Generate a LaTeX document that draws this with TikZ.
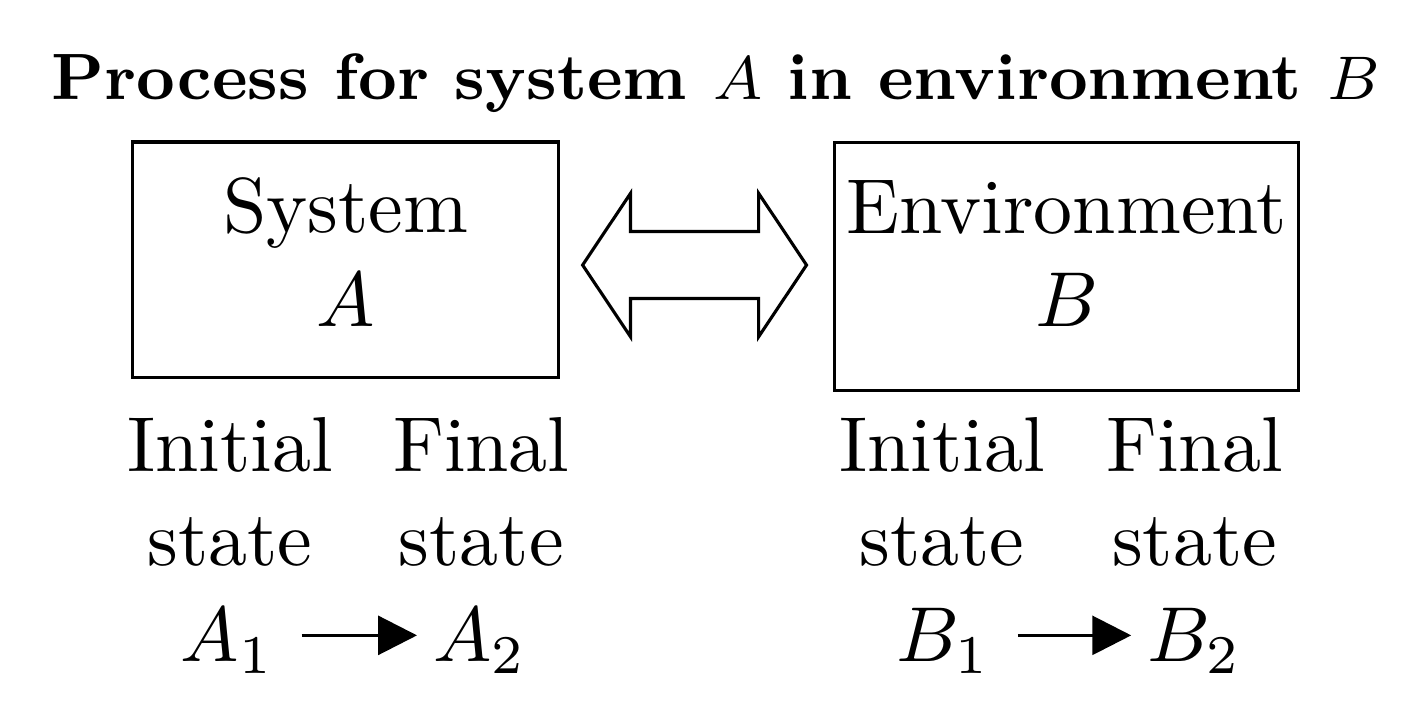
\documentclass[tikz,border=0pt]{standalone}
\usepackage{amssymb}
\usepackage{amsmath}
\usetikzlibrary{shapes.arrows,arrows.meta}

\begin{document}
\begin{tikzpicture}
	\useasboundingbox (0,0) rectangle (6.407,3.258);
	\node[anchor=base, scale=0.989] (title) at (3.231,2.807) {\fontsize{8.5}{10}\selectfont\bfseries Process for system $A$ in environment $B$};
	\node[draw, anchor=north, align=center, inner xsep=1pt, inner ysep=4.8pt, text height=18.83pt, text depth=1.8pt, minimum width=1.922cm] (sysA) at (1.559,2.624) {System\\$A$};
	\node[draw, anchor=north, align=center, inner xsep=1pt, inner ysep=4.8pt, text height=18.83pt, text depth=3.4pt, minimum width=2.094cm] (envB) at (4.813,2.620) {Environment\\$B$};
	\node[double arrow, draw, inner xsep=0pt, inner ysep=4.1pt, minimum height=28.75pt, double arrow head extend=4.9pt, double arrow tip angle=112.5] (xchg) at (3.134,2.062) {};
	\foreach \x/\nm/\txt in {
		1.038/iniA/Initial,
		2.172/finA/Final,
		4.251/iniB/Initial,
		5.39/finB/Final
	}{
		\node[anchor=base, align=center] (\nm) at (\x,0.7085) {\txt\\state};
	}
	\foreach \x/\nm/\txt in {
		1.027/A1/$A_1$,
		2.166/A2/$A_2$,
		4.258/B1/$B_1$,
		5.390/B2/$B_2$
	}{
		\node[anchor=base, inner xsep=2.7pt, text depth=0pt] (\nm) at (\x,0.271) {\txt};
	}
	\draw[-{Triangle[length=5pt,width=5pt]}, shorten <=0.6pt, shorten >=-0.8pt] (A1.east) -- (A2.west);
	\draw[-{Triangle[length=5pt,width=5pt]}, shorten <=0.6pt, shorten >=-0.8pt] (B1.east) -- (B2.west);
\end{tikzpicture}
\end{document}
